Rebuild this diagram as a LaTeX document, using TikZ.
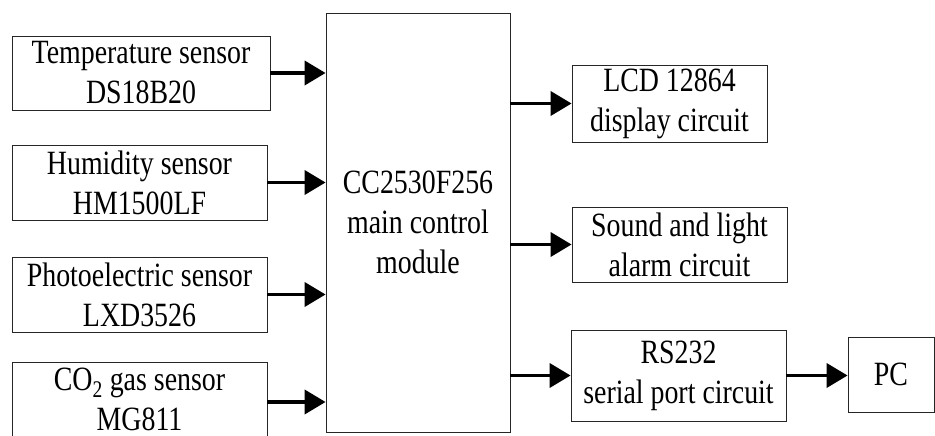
\documentclass[tikz,border=0pt]{standalone}
\usepackage{fontspec}
\setmainfont[FakeStretch=0.82]{Liberation Serif}
\usetikzlibrary{arrows.meta, positioning}

\begin{document}
\begin{tikzpicture}[x=1pt, y=-1pt,
      blk/.style={rectangle, draw=black!85, line width=0.8pt, inner sep=0pt,
                  align=center, font=\fontsize{34}{40}\selectfont},
      link/.style={-{Triangle[length=21pt, width=24pt]}, line width=3.8pt}]
    \useasboundingbox (0,0) rectangle (935,436);
    % sensors
    \node[blk, minimum width=258pt, minimum height=74pt] (temp)  at (141,73)    {Temperature sensor\\DS18B20};
    \node[blk, minimum width=255pt, minimum height=75pt] (humid) at (139.5,182.5) {Humidity sensor\\HM1500LF};
    \node[blk, minimum width=255pt, minimum height=75pt] (photo) at (139.5,294.5) {Photoelectric sensor\\LXD3526};
    \node[blk, minimum width=255pt, minimum height=75pt] (gas)   at (139.5,399.5) {CO\textsubscript{2} gas sensor\\MG811};
    % controller
    \node[blk, minimum width=184pt, minimum height=419pt] (mcu) at (418,222.5) {CC2530F256\\main control\\module};
    % outputs
    \node[blk, minimum width=195pt, minimum height=77pt] (lcd)   at (669.5,103.5) {LCD 12864\\display circuit};
    \node[blk, minimum width=215pt, minimum height=75pt] (alarm) at (679.5,244.5) {Sound and light\\alarm circuit};
    \node[blk, minimum width=215pt, minimum height=91pt] (rs232) at (678.5,375.5) {RS232\\serial port circuit};
    \node[blk, minimum width=86pt, minimum height=75pt]  (pc)    at (891,374.5)   {PC};
    \draw[link] (temp.east)  -- (temp.east -| mcu.west);
    \draw[link] (humid.east) -- (humid.east -| mcu.west);
    \draw[link] (photo.east) -- (photo.east -| mcu.west);
    \draw[link] ([yshift=-2.5pt]gas.east) -- ([yshift=-2.5pt]gas.east -| mcu.west);
    \draw[link] (lcd.west -| mcu.east)   -- (lcd.west);
    \draw[link] (alarm.west -| mcu.east) -- (alarm.west);
    \draw[link] (rs232.west -| mcu.east) -- (rs232.west);
    \draw[link] (rs232.east) -- (pc.west |- rs232.east);
  \end{tikzpicture}
\end{document}
